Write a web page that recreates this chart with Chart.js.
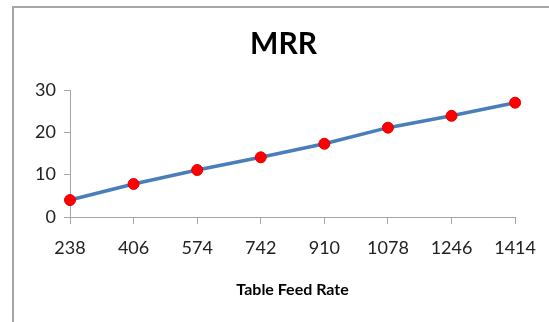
<!DOCTYPE html>
<html>
<head>
<meta charset="utf-8">
<script src="https://cdn.jsdelivr.net/npm/chart.js@4"></script>
<style>
    html, body { margin: 0; padding: 0; background: #fff; }
    #wrap { position: relative; width: 549px; height: 322px; overflow: hidden; }
    #frame {
        position: absolute; left: 12px; top: 6px; width: 600px; height: 400px;
        border-top: 2px solid #a6a6a6; border-left: 2px solid #a6a6a6;
        pointer-events: none;
    }
</style>
</head>
<body>
<div id="wrap">
    <canvas id="graficoMrr" width="549" height="322"></canvas>
    <div id="frame"></div>
</div>
<script>
const feedRates = ['238', '406', '574', '742', '910', '1078', '1246', '1414'];
const mrrValues = [4.0, 7.8, 11.1, 14.1, 17.3, 21.1, 23.9, 27.0];
const yTicks = [0, 10, 20, 30];

const fuente = 'Lato, "Open Sans", sans-serif';
const gris = '#a6a6a6';

const ctx = document.getElementById('graficoMrr').getContext('2d');

const chartMrr = new Chart(ctx, {
    type: 'line',
    data: {
        labels: feedRates,
        datasets: [{
            label: 'MRR',
            data: mrrValues,
            borderColor: '#4a7ebb',
            borderWidth: 3.5,
            pointBackgroundColor: '#ff0000',
            pointBorderColor: '#e00000',
            pointBorderWidth: 1,
            pointRadius: 5.5,
            tension: 0,
            fill: false
        }]
    },
    options: {
        responsive: false,
        animation: false,
        layout: { padding: { top: 0, right: 0, bottom: 0, left: 18 } },
        plugins: {
            legend: { display: false },
            tooltip: { enabled: false },
            title: {
                display: true,
                text: 'MRR',
                color: '#000',
                font: { family: fuente, size: 30, weight: 'bold' },
                padding: { top: 26, bottom: 28 }
            }
        },
        scales: {
            x: {
                offset: false,
                grid: { display: true, drawOnChartArea: false, drawTicks: true, tickLength: 7, color: gris },
                border: { display: true, color: gris, width: 1 },
                ticks: { color: '#222', font: { family: fuente, size: 18 }, padding: 13, maxRotation: 0, autoSkip: false },
                title: {
                    display: true,
                    text: 'Table Feed Rate',
                    color: '#000',
                    font: { family: fuente, size: 16, weight: 'bold' },
                    padding: { top: 12, bottom: 23 }
                },
                afterFit: function (scale) { scale.height = 105; }
            },
            y: {
                min: 0,
                max: 30,
                afterBuildTicks: function (scale) { scale.ticks = yTicks.map(v => ({ value: v })); },
                grid: { display: true, drawOnChartArea: false, drawTicks: true, tickLength: 6, color: gris },
                border: { display: true, color: gris, width: 1 },
                ticks: { color: '#222', font: { family: fuente, size: 18 }, padding: 8 },
                afterFit: function (scale) { scale.width = 52; }
            }
        }
    }
});
</script>
</body>
</html>
